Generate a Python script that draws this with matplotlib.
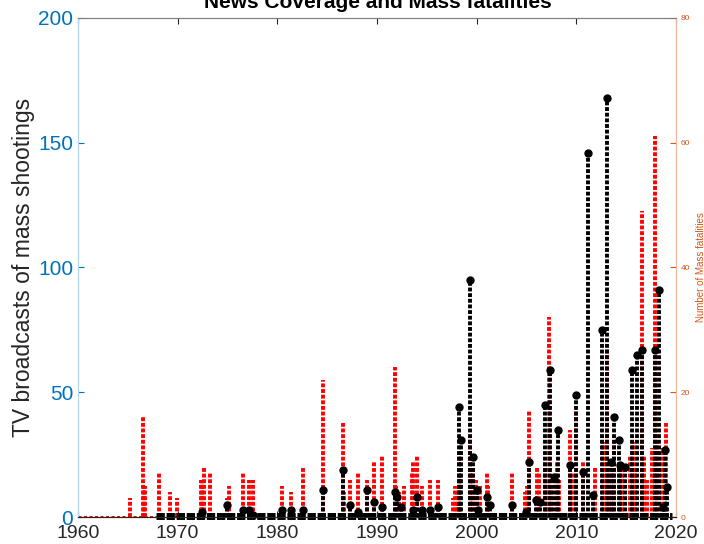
import numpy as np
import matplotlib
matplotlib.use("Agg")
import matplotlib.pyplot as plt

plt.rcParams['font.family'] = ['Liberation Sans', 'DejaVu Sans']

# TV broadcasts of mass shootings (left axis)
tv_year = [1972.44, 1974.94, 1976.55, 1977.15, 1977.55, 1980.46, 1981.36, 1982.57,
           1984.57, 1986.58, 1987.28, 1988.08, 1988.99, 1989.69, 1990.49, 1991.80,
           1992.00, 1992.40, 1993.60, 1994.00, 1994.50, 1995.31, 1996.11, 1998.21,
           1998.42, 1999.32, 1999.62, 2000.02, 2000.12, 2001.02, 2001.32, 2003.53,
           2004.93, 2005.24, 2005.94, 2006.34, 2006.84, 2007.34, 2007.74, 2008.14,
           2009.35, 2009.95, 2010.65, 2011.15, 2011.65, 2012.56, 2013.06, 2013.46,
           2013.76, 2014.26, 2014.36, 2014.86, 2015.57, 2016.07, 2016.57, 2017.87,
           2018.27, 2018.67, 2018.87, 2019.07]
tv_count = [2, 5, 3, 3, 1, 3, 3, 3,
            11, 19, 5, 2, 11, 6, 4, 10,
            8, 4, 3, 8, 3, 3, 4, 44,
            31, 95, 24, 11, 3, 8, 5, 5,
            2, 22, 7, 6, 45, 59, 16, 35,
            21, 49, 18, 146, 9, 75, 168, 22,
            40, 31, 21, 20, 59, 65, 67, 67,
            91, 4, 27, 12]

# Number of mass fatalities (right axis)
fat_year = [1965.22, 1966.52, 1966.62, 1966.72, 1968.12, 1969.23, 1969.93, 1972.34,
            1972.44, 1972.64, 1973.24, 1974.94, 1975.15, 1976.55, 1977.15, 1977.55,
            1980.46, 1981.36, 1982.57, 1984.57, 1986.58, 1986.68, 1987.28, 1988.08,
            1988.99, 1989.69, 1990.49, 1991.80, 1991.90, 1992.20, 1992.70, 1993.50,
            1993.60, 1994.00, 1994.50, 1995.31, 1996.11, 1997.61, 1997.81, 1998.01,
            1998.21, 1998.31, 1999.32, 1999.42, 1999.62, 1999.92, 2000.30, 2001.02,
            2001.12, 2003.53, 2004.83, 2005.03, 2005.24, 2006.04, 2006.24, 2006.84,
            2006.94, 2007.24, 2007.44, 2008.04, 2008.24, 2009.35, 2009.55, 2009.95,
            2010.65, 2011.86, 2012.66, 2013.06, 2013.26, 2013.56, 2013.76, 2014.56,
            2015.37, 2015.67, 2015.87, 2016.57, 2016.77, 2017.07, 2017.57, 2017.87,
            2018.07, 2018.57, 2018.97]
fat_count = [3, 16, 5, 5, 7, 4, 3, 6,
             6, 8, 7, 3, 5, 7, 6, 6,
             5, 4, 8, 22, 15, 4, 6, 7,
             6, 9, 10, 24, 5, 4, 5, 7,
             9, 10, 5, 6, 6, 3, 5, 4,
             10, 8, 13, 7, 8, 6, 5, 7,
             5, 7, 4, 5, 17, 8, 7, 9,
             6, 32, 5, 9, 6, 14, 7, 17,
             9, 8, 12, 27, 7, 9, 12, 8,
             10, 12, 8, 49, 10, 6, 11, 61,
             12, 11, 15]

blue = (0.0, 0.447, 0.741)
orange = (0.85, 0.325, 0.098)
dark = (0.15, 0.15, 0.15)

fig = plt.figure(figsize=(7.04, 5.44), dpi=100)
ax = fig.add_axes([0.1108, 0.0496, 0.8494, 0.9174])
ax2 = ax.twinx()
ax.set_zorder(ax2.get_zorder() + 1)
ax.patch.set_visible(False)

# red stems on the right axis
ax2.vlines(fat_year, 0, fat_count, colors='red', linewidth=2.8,
           linestyles=[(0, (1.0, 0.45))])
ax2.hlines(0, 1960, 1967.8, colors='red', linewidth=2.2,
           linestyles=[(0, (1.0, 0.8))])
ax2.set_ylim(0, 80)

# black stems on the left axis
ax.vlines(tv_year, 0, tv_count, colors='black', linewidth=2.8,
          linestyles=[(0, (1.0, 0.45))])
ax.plot(tv_year, tv_count, 'o', color='black', markersize=5, clip_on=False)
ax.hlines(0.6, 1967.8, 2019.6, colors='black', linewidth=5,
          linestyles=[(0, (1.2, 0.25))], clip_on=False)
ax.set_xlim(1960, 2020)
ax.set_ylim(0, 200)

ax.set_xticks(np.arange(1960, 2021, 10))
ax.set_yticks(np.arange(0, 201, 50))
ax.tick_params(axis='x', direction='in', labelsize=14, labelcolor=dark,
               color=dark, top=True, length=4, pad=6)
ax.tick_params(axis='y', direction='in', labelsize=15, labelcolor=blue,
               color=blue, length=4)
ax2.set_yticks(np.arange(0, 81, 20))
ax2.tick_params(axis='y', direction='in', labelsize=6, labelcolor=orange,
                color=orange, length=4)

for a in (ax, ax2):
    a.spines['left'].set_color((0.7, 0.84, 0.94))
    a.spines['right'].set_color((0.95, 0.72, 0.62))
    a.spines['top'].set_color((0.5, 0.5, 0.5))
    a.spines['bottom'].set_color(dark)

ax.set_ylabel('TV broadcasts of mass shootings', fontsize=16.5, color=dark,
              labelpad=2)
ax2.set_ylabel('Number of Mass fatalities', fontsize=7, color=orange,
               labelpad=4)

fig.text(0.537, 1 - 8 / 544, 'News Coverage and Mass fatalities',
         ha='center', va='baseline', fontsize=15, fontweight='bold')

fig.savefig('out.png', dpi=100)
